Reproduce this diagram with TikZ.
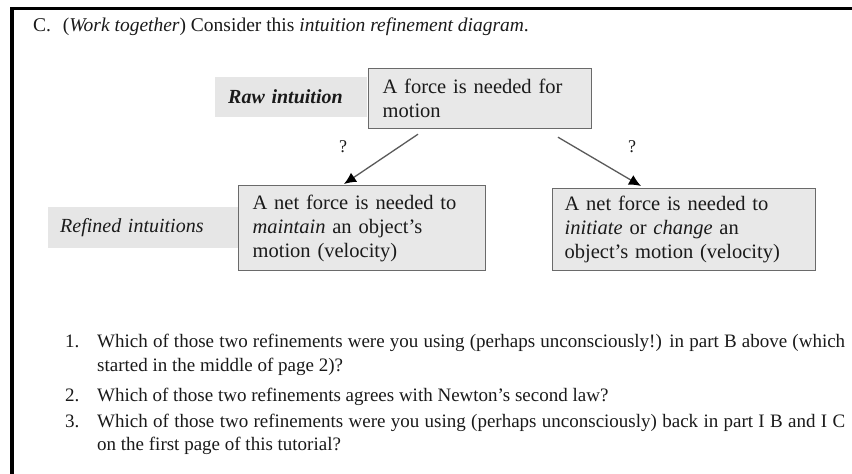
\documentclass[tikz,border=0pt]{standalone}
\usepackage{fontspec}
\setmainfont{Liberation Serif}
\usetikzlibrary{calc,arrows.meta}
\definecolor{boxfill}{HTML}{E8E8E8}
\definecolor{labelfill}{HTML}{E6E6E6}
\definecolor{boxline}{HTML}{6A6A6A}
\definecolor{ink}{HTML}{1A1A1A}
\definecolor{linkgray}{HTML}{5A5A5A}
\begin{document}
\begin{tikzpicture}[x=1pt,y=-1pt,
  every node/.style={text=ink},
  rawbox/.style={draw=boxline, line width=1.2pt, fill=boxfill, anchor=north west,
    align=left, inner xsep=14pt, inner ysep=0pt, font=\fontsize{20.5}{24}\selectfont},
  lbl/.style={fill=labelfill, anchor=west, align=left, inner xsep=13pt,
    minimum height=40pt, font=\fontsize{20}{24}\selectfont},
  qmark/.style={font=\fontsize{18}{20}\selectfont, inner sep=0pt},
  link/.style={draw=linkgray, line width=1.3pt, -{Latex[length=12pt,width=11pt,color=black]}},
  qtext/.style={anchor=base west, inner sep=0pt, font=\fontsize{19}{23}\selectfont}
]
\useasboundingbox (0,0) rectangle (852,474);
\fill[white] (0,0) rectangle (852,474);
% page frame
\fill[black] (9.5,7) rectangle (852,10);
\fill[black] (9.5,7) rectangle (13.5,474);

% title
\node[anchor=base west, inner sep=0pt, font=\fontsize{19.5}{24}\selectfont] (title) at (33,31)
  {C.\hspace{0.6em}(\textit{Work together})\ Consider this \textit{intuition refinement diagram}.};

% labels
\node[lbl, text width=126pt] (raw) at (215,97) {\textbf{\textit{Raw intuition}}};
\node[lbl, text width=166pt, inner xsep=12pt, minimum height=41pt] (refined) at (48,227.5) {\textit{Refined intuitions}};

% boxes
\node[rawbox, text width=195pt, minimum height=60pt] (top) at (368,68) {A force is needed for\\motion};
\node[rawbox, text width=219pt, minimum height=85pt] (left) at (238,185)
  {A net force is needed to\\\textit{maintain} an object's\\motion (velocity)};
\node[rawbox, text width=239pt, inner xsep=12pt, minimum height=82pt] (right) at (552,188)
  {A net force is needed to\\\textit{initiate} or \textit{change} an\\object's motion (velocity)};

% connectors
\draw[link] ($(top.south west)+(50,5)$) -- ($(left.north west)+(106,-1)$);
\draw[link] ($(top.south west)+(190,8)$) -- ($(right.north west)+(89,-2)$);
\node[qmark] (q1) at (343,147) {?};
\node[qmark] (q2) at (632,147) {?};

% questions
\node[qtext] (n1) at (65,347) {1.};
\node[qtext] (l1a) at (97,347) {\makebox[748pt][s]{Which of those two refinements were you using (perhaps unconsciously!) in part B above (which}};
\node[qtext] (l1b) at (97,371) {started in the middle of page 2)?};
\node[qtext] (n2) at (65,401) {2.};
\node[qtext] (l2) at (97,401) {Which of those two refinements agrees with Newton's second law?};
\node[qtext] (n3) at (65,427) {3.};
\node[qtext] (l3a) at (97,427) {\makebox[748pt][s]{Which of those two refinements were you using (perhaps unconsciously) back in part I B and I C}};
\node[qtext] (l3b) at (97,450) {on the first page of this tutorial?};
\end{tikzpicture}
\end{document}
